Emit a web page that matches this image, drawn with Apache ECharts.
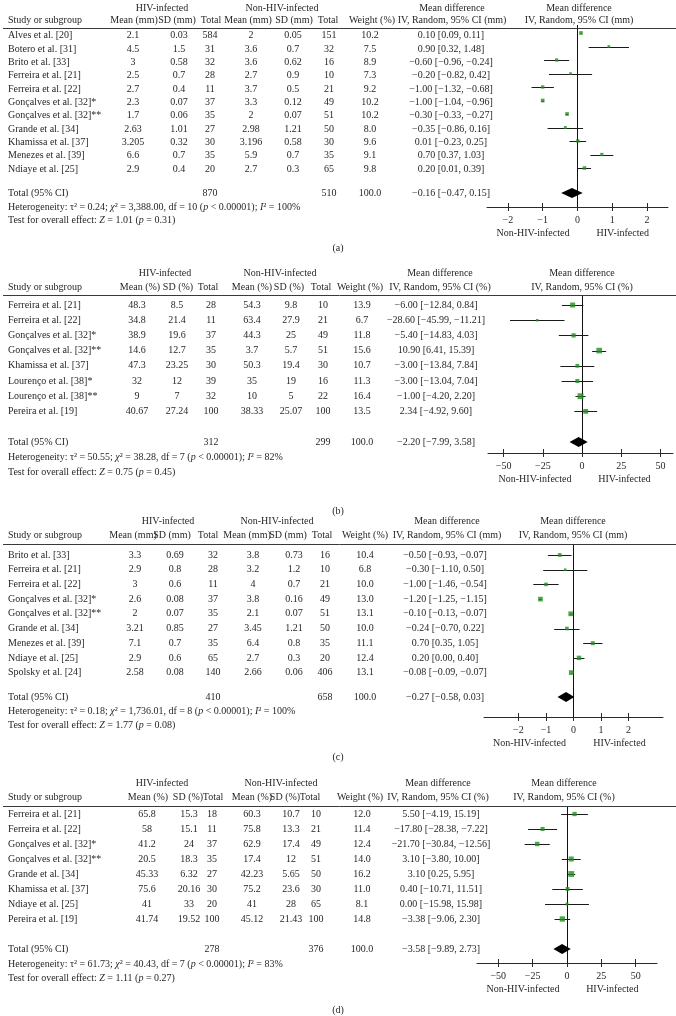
<!DOCTYPE html>
<html><head><meta charset="utf-8">
<script src="https://cdn.jsdelivr.net/npm/echarts@6/dist/echarts.min.js"></script>
<style>html,body{margin:0;padding:0;background:#fff}#c{width:676px;height:1016px}</style>
</head><body><div id="c"></div>
<script>
// ---------------- DATA ----------------
// Panel (a)
const aName = ['Alves et al. [20]','Botero et al. [31]','Brito et al. [33]','Ferreira et al. [21]','Ferreira et al. [22]','Gonçalves et al. [32]*','Gonçalves et al. [32]**','Grande et al. [34]','Khamissa et al. [37]','Menezes et al. [39]','Ndiaye et al. [25]'];
const aHivMean = [2.1,4.5,3,2.5,2.7,2.3,1.7,2.63,3.205,6.6,2.9];
const aHivSD   = [0.03,1.5,0.58,0.7,0.4,0.07,0.06,1.01,0.32,0.7,0.4];
const aHivN    = [584,31,32,28,11,37,35,27,30,35,20];
const aNonMean = [2,3.6,3.6,2.7,3.7,3.3,2,2.98,3.196,5.9,2.7];
const aNonSD   = [0.05,0.7,0.62,0.9,0.5,0.12,0.07,1.21,0.58,0.7,0.3];
const aNonN    = [151,32,16,10,21,49,51,50,30,35,65];
const aWeight  = [10.2,7.5,8.9,7.3,9.2,10.2,10.2,8.0,9.6,9.1,9.8];
const aMD      = [0.10,0.90,-0.60,-0.20,-1.00,-1.00,-0.30,-0.35,0.01,0.70,0.20];
const aLo      = [0.09,0.32,-0.96,-0.82,-1.32,-1.04,-0.33,-0.86,-0.23,0.37,0.01];
const aHi      = [0.11,1.48,-0.24,0.42,-0.68,-0.96,-0.27,0.16,0.25,1.03,0.39];
const aTicks   = [-2,-1,0,1,2];

// Panel (b)
const bName = ['Ferreira et al. [21]','Ferreira et al. [22]','Gonçalves et al. [32]*','Gonçalves et al. [32]**','Khamissa et al. [37]','Lourenço et al. [38]*','Lourenço et al. [38]**','Pereira et al. [19]'];
const bHivMean = [48.3,34.8,38.9,14.6,47.3,32,9,40.67];
const bHivSD   = [8.5,21.4,19.6,12.7,23.25,12,7,27.24];
const bHivN    = [28,11,37,35,30,39,32,100];
const bNonMean = [54.3,63.4,44.3,3.7,50.3,35,10,38.33];
const bNonSD   = [9.8,27.9,25,5.7,19.4,19,5,25.07];
const bNonN    = [10,21,49,51,30,16,22,100];
const bWeight  = [13.9,6.7,11.8,15.6,10.7,11.3,16.4,13.5];
const bMD      = [-6.00,-28.60,-5.40,10.90,-3.00,-3.00,-1.00,2.34];
const bLo      = [-12.84,-45.99,-14.83,6.41,-13.84,-13.04,-4.20,-4.92];
const bHi      = [0.84,-11.21,4.03,15.39,7.84,7.04,2.20,9.60];
const bTicks   = [-50,-25,0,25,50];

// Panel (c)
const cName = ['Brito et al. [33]','Ferreira et al. [21]','Ferreira et al. [22]','Gonçalves et al. [32]*','Gonçalves et al. [32]**','Grande et al. [34]','Menezes et al. [39]','Ndiaye et al. [25]','Spolsky et al. [24]'];
const cHivMean = [3.3,2.9,3,2.6,2,3.21,7.1,2.9,2.58];
const cHivSD   = [0.69,0.8,0.6,0.08,0.07,0.85,0.7,0.6,0.08];
const cHivN    = [32,28,11,37,35,27,35,65,140];
const cNonMean = [3.8,3.2,4,3.8,2.1,3.45,6.4,2.7,2.66];
const cNonSD   = [0.73,1.2,0.7,0.16,0.07,1.21,0.8,0.3,0.06];
const cNonN    = [16,10,21,49,51,50,35,20,406];
const cWeight  = [10.4,6.8,10.0,13.0,13.1,10.0,11.1,12.4,13.1];
const cMD      = [-0.50,-0.30,-1.00,-1.20,-0.10,-0.24,0.70,0.20,-0.08];
const cLo      = [-0.93,-1.10,-1.46,-1.25,-0.13,-0.70,0.35,0.00,-0.09];
const cHi      = [-0.07,0.50,-0.54,-1.15,-0.07,0.22,1.05,0.40,-0.07];
const cTicks   = [-2,-1,0,1,2];

// Panel (d)
const dName = ['Ferreira et al. [21]','Ferreira et al. [22]','Gonçalves et al. [32]*','Gonçalves et al. [32]**','Grande et al. [34]','Khamissa et al. [37]','Ndiaye et al. [25]','Pereira et al. [19]'];
const dHivMean = [65.8,58,41.2,20.5,45.33,75.6,41,41.74];
const dHivSD   = [15.3,15.1,24,18.3,6.32,20.16,33,19.52];
const dHivN    = [18,11,37,35,27,30,20,100];
const dNonMean = [60.3,75.8,62.9,17.4,42.23,75.2,41,45.12];
const dNonSD   = [10.7,13.3,17.4,12,5.65,23.6,28,21.43];
const dNonN    = [10,21,49,51,50,30,65,100];
const dWeight  = [12.0,11.4,12.4,14.0,16.2,11.0,8.1,14.8];
const dMD      = [5.50,-17.80,-21.70,3.10,3.10,0.40,0.00,-3.38];
const dLo      = [-4.19,-28.38,-30.84,-3.80,0.25,-10.71,-15.98,-9.06];
const dHi      = [15.19,-7.22,-12.56,10.00,5.95,11.51,15.98,2.30];
const dTicks   = [-50,-25,0,25,50];

// Pooled results (a, b, c, d)
const totHivN  = [870,312,410,278];
const totNonN  = [510,299,658,376];
const poolMD   = [-0.16,-2.20,-0.27,-3.58];
const poolLo   = [-0.47,-7.99,-0.58,-9.89];
const poolHi   = [0.15,3.58,0.03,2.73];
const hetTau2  = ['0.24','50.55','0.18','61.73'];
const hetChi2  = ['3,388.00','38.28','1,736.01','40.43'];
const hetDf    = [10,7,8,7];
const hetI2    = [100,82,100,83];
const testZ    = ['1.01','0.75','1.77','1.11'];
const testP    = ['0.31','0.45','0.08','0.27'];
const units    = ['mm','%','mm','%'];
const tags     = ['(a)','(b)','(c)','(d)'];

// ---------------- LAYOUT ----------------
const FONT = '"Liberation Serif","DejaVu Serif","Times New Roman",serif';
const FS = 10;
const TXT = '#231f20';
const GREEN = '#1f8f1f';

const layouts = [
  {h1:5, h2:17.5, rule:25, first:33, rowH:13.5, total:193, het:207, test:220, axis:207, label:248,
   plotLeft:487, plotW:181, xmin:-2.6, xmax:2.6, side:[-1.28,1.3],
   col:{c1:133,c2:179,c3:210,c4:251,c5:293,c6:329,w:370,ci:451},
   hcol:{c1:134,c2:177,c3:211,c4:248,c5:294,c6:328,w:372,ci:452,hiv:162,non:282,plot:579}},
  {h1:273, h2:287, rule:295, first:305, rowH:15.2, total:442, het:457, test:472, axis:453, label:511,
   plotLeft:488, plotW:185, xmin:-60, xmax:58, side:[-30,27],
   col:{c1:137,c2:177,c3:211,c4:252,c5:291,c6:323,w:362,ci:436},
   hcol:{c1:140,c2:178,c3:208,c4:252,c5:289,c6:321,w:360,ci:440,hiv:165,non:280,plot:582}},
  {h1:521, h2:535, rule:544, first:555, rowH:14.7, total:697, het:711, test:725, axis:717, label:757,
   plotLeft:484, plotW:179, xmin:-3.25, xmax:3.25, side:[-1.6,1.67],
   col:{c1:135,c2:175,c3:213,c4:253,c5:294,c6:325,w:365,ci:445},
   hcol:{c1:133,c2:172,c3:208,c4:247,c5:288,c6:322,w:365,ci:447,hiv:168,non:277,plot:573}},
  {h1:783, h2:797, rule:806, first:814, rowH:15, total:949, het:964, test:978, axis:963, label:1010,
   plotLeft:477, plotW:180, xmin:-65.5, xmax:65.5, side:[-32,33],
   col:{c1:147,c2:189,c3:212,c4:252,c5:291,c6:316,w:362,ci:441},
   hcol:{c1:148,c2:188,c3:213,c4:252,c5:285,c6:310,w:360,ci:438,hiv:162,non:281,plot:564}}
];

const panels = [
  {name:aName,hm:aHivMean,hs:aHivSD,hn:aHivN,nm:aNonMean,ns:aNonSD,nn:aNonN,w:aWeight,md:aMD,lo:aLo,hi:aHi,ticks:aTicks},
  {name:bName,hm:bHivMean,hs:bHivSD,hn:bHivN,nm:bNonMean,ns:bNonSD,nn:bNonN,w:bWeight,md:bMD,lo:bLo,hi:bHi,ticks:bTicks},
  {name:cName,hm:cHivMean,hs:cHivSD,hn:cHivN,nm:cNonMean,ns:cNonSD,nn:cNonN,w:cWeight,md:cMD,lo:cLo,hi:cHi,ticks:cTicks},
  {name:dName,hm:dHivMean,hs:dHivSD,hn:dHivN,nm:dNonMean,ns:dNonSD,nn:dNonN,w:dWeight,md:dMD,lo:dLo,hi:dHi,ticks:dTicks}
];

const minus = v => (v < 0 ? '\u2212' : '') + Math.abs(v).toFixed(2);
const ciText = (m, l, h) => `${minus(m)} [${minus(l)}, ${minus(h)}]`;
const RICH = {
  n: {fontFamily: FONT, fontSize: FS, fill: TXT, color: TXT},
  i: {fontFamily: FONT, fontSize: FS, fontStyle: 'italic', fill: TXT, color: TXT}
};

const grids = [], xAxes = [], yAxes = [], series = [];

panels.forEach((P, k) => {
  const L = layouts[k];
  const r = px => (px - L.first) / L.rowH;
  const u = units[k];

  // ---- table grid ----
  const tTop = L.h1 - 8, tBot = L.label + 6;
  const tg = grids.length;
  grids.push({left: 0, width: 676, top: tTop, height: tBot - tTop});
  const txi = xAxes.length, tyi = yAxes.length;
  xAxes.push({gridIndex: tg, type: 'value', min: 0, max: 676, show: false});
  yAxes.push({gridIndex: tg, type: 'value', inverse: true, min: r(tTop), max: r(tBot), show: false});

  const items = [];
  const T = (x, y, t, a) => items.push({x, y, t, a: a || 'center'});
  const H = L.hcol, C = L.col;
  // header line 1
  T(H.hiv, r(L.h1), 'HIV-infected');
  T(H.non, r(L.h1), 'Non-HIV-infected');
  T(H.ci, r(L.h1), 'Mean difference');
  T(H.plot, r(L.h1), 'Mean difference');
  // header line 2
  T(8, r(L.h2), 'Study or subgroup', 'left');
  T(H.c1, r(L.h2), `Mean (${u})`);
  T(H.c2, r(L.h2), `SD (${u})`);
  T(H.c3, r(L.h2), 'Total');
  T(H.c4, r(L.h2), `Mean (${u})`);
  T(H.c5, r(L.h2), `SD (${u})`);
  T(H.c6, r(L.h2), 'Total');
  T(H.w, r(L.h2), 'Weight (%)');
  T(H.ci, r(L.h2), `IV, Random, 95% CI (${u})`);
  T(H.plot, r(L.h2), `IV, Random, 95% CI (${u})`);
  items.push({line: true, x: 3, x2: 676, y: r(L.rule)});
  // study rows
  P.name.forEach((nm, i) => {
    T(8, i, nm, 'left');
    T(C.c1, i, String(P.hm[i]));
    T(C.c2, i, String(P.hs[i]));
    T(C.c3, i, String(P.hn[i]));
    T(C.c4, i, String(P.nm[i]));
    T(C.c5, i, String(P.ns[i]));
    T(C.c6, i, String(P.nn[i]));
    T(C.w, i, P.w[i].toFixed(1));
    T(C.ci, i, ciText(P.md[i], P.lo[i], P.hi[i]));
  });
  // total
  const tr = r(L.total);
  T(8, tr, 'Total (95% CI)', 'left');
  T(C.c3, tr, String(totHivN[k]));
  T(C.c6, tr, String(totNonN[k]));
  T(C.w, tr, '100.0');
  T(C.ci, tr, ciText(poolMD[k], poolLo[k], poolHi[k]));
  T(8, r(L.het), `{n|Heterogeneity: \u03c4² = ${hetTau2[k]}; }{i|\u03c7}{n|² = ${hetChi2[k]}, df = ${hetDf[k]} (}{i|p}{n| < 0.00001); }{i|I}{n|² = ${hetI2[k]}%}`, 'left');
  T(8, r(L.test), `{n|Test for overall effect: }{i|Z}{n| = ${testZ[k]} (}{i|p}{n| = ${testP[k]})}`, 'left');
  T(338, r(L.label), tags[k]);

  series.push({
    type: 'custom', xAxisIndex: txi, yAxisIndex: tyi, clip: false, silent: true,
    data: items.map(it => [it.x, it.y]),
    encode: {x: 0, y: 1},
    renderItem: (params, api) => {
      const it = items[params.dataIndex];
      const p1 = api.coord([it.x, it.y]);
      if (it.line) {
        const p2 = api.coord([it.x2, it.y]);
        const yy = Math.round(p1[1]) + 0.5;
        return {type: 'line', shape: {x1: p1[0], y1: yy, x2: p2[0], y2: yy}, style: {stroke: '#3a3a3a', lineWidth: 1}};
      }
      return {type: 'text', x: p1[0], y: p1[1],
        style: {text: it.t, align: it.a, verticalAlign: 'middle', fontFamily: FONT, fontSize: FS, fill: TXT, rich: RICH}};
    }
  });

  // ---- plot grid ----
  const pg = grids.length;
  grids.push({left: L.plotLeft, width: L.plotW, top: L.rule, height: L.axis - L.rule});
  const tickFmt = v => (v < 0 ? '\u2212' + Math.abs(v) : String(v));
  const xi = xAxes.length;
  xAxes.push({gridIndex: pg, type: 'value', position: 'bottom', min: L.xmin, max: L.xmax,
    axisLine: {show: true, onZero: false, lineStyle: {color: '#2a2a2a', width: 1}},
    axisTick: {show: true, customValues: P.ticks, length: 4, inside: false, lineStyle: {color: '#2a2a2a', width: 1}},
    axisLabel: {show: true, customValues: P.ticks, formatter: tickFmt, margin: 8, fontFamily: FONT, fontSize: FS, color: TXT},
    splitLine: {show: false}});
  xAxes.push({gridIndex: pg, type: 'value', position: 'bottom', min: L.xmin, max: L.xmax,
    axisLine: {show: false, onZero: false},
    axisTick: {show: true, customValues: P.ticks, length: 4, inside: true, lineStyle: {color: '#2a2a2a', width: 1}},
    axisLabel: {show: false}, splitLine: {show: false}});
  const yi = yAxes.length;
  yAxes.push({gridIndex: pg, type: 'value', inverse: true, min: r(L.rule), max: r(L.axis), show: false});

  // whiskers
  series.push({
    type: 'custom', xAxisIndex: xi, yAxisIndex: yi, silent: true, z: 2,
    data: P.md.map((_, i) => [P.lo[i], P.hi[i], i]),
    encode: {x: [0, 1], y: 2},
    renderItem: (params, api) => {
      const a = api.coord([api.value(0), api.value(2)]);
      const b = api.coord([api.value(1), api.value(2)]);
      const yy = Math.round(a[1]) + 0.5;
      return {type: 'line', shape: {x1: a[0], y1: yy, x2: b[0], y2: yy}, style: {stroke: '#1a1a1a', lineWidth: 1}};
    }
  });
  // squares + zero line
  series.push({
    type: 'scatter', xAxisIndex: xi, yAxisIndex: yi, silent: true, z: 3,
    symbol: 'rect', symbolSize: v => Math.max(2.5, v[2] * 0.36),
    itemStyle: {color: GREEN},
    data: P.md.map((m, i) => [m, i, P.w[i]]),
    markLine: {silent: true, symbol: ['none', 'none'], label: {show: false},
      lineStyle: {color: '#111', width: 1, type: 'solid'}, data: [{xAxis: 0}], z: 1}
  });
  // diamond
  series.push({
    type: 'custom', xAxisIndex: xi, yAxisIndex: yi, silent: true, z: 4,
    data: [[poolMD[k], poolLo[k], poolHi[k], r(L.total)]],
    encode: {x: [0, 1, 2], y: 3},
    renderItem: (params, api) => {
      const c = api.coord([api.value(0), api.value(3)]);
      const lo = api.coord([api.value(1), api.value(3)]);
      const hi = api.coord([api.value(2), api.value(3)]);
      const h = 5;
      return {type: 'polygon', shape: {points: [[lo[0], c[1]], [c[0], c[1] - h], [hi[0], c[1]], [c[0], c[1] + h]]},
        style: {fill: '#000'}};
    }
  });
  // side labels under the axis
  const sideTxt = ['Non-HIV-infected', 'HIV-infected'];
  series.push({
    type: 'custom', xAxisIndex: xi, yAxisIndex: yi, silent: true, clip: false,
    data: L.side.map(x => [x, r(L.axis + 26)]),
    encode: {x: 0, y: 1},
    renderItem: (params, api) => {
      const p = api.coord([api.value(0), api.value(1)]);
      return {type: 'text', x: p[0], y: p[1], style: {text: sideTxt[params.dataIndex], align: 'center', verticalAlign: 'middle', fontFamily: FONT, fontSize: FS, fill: TXT}};
    }
  });
});

const chart = echarts.init(document.getElementById('c'), null, {renderer: 'canvas'});
chart.setOption({animation: false, backgroundColor: '#fff', grid: grids, xAxis: xAxes, yAxis: yAxes, series: series});
</script>
</body></html>
